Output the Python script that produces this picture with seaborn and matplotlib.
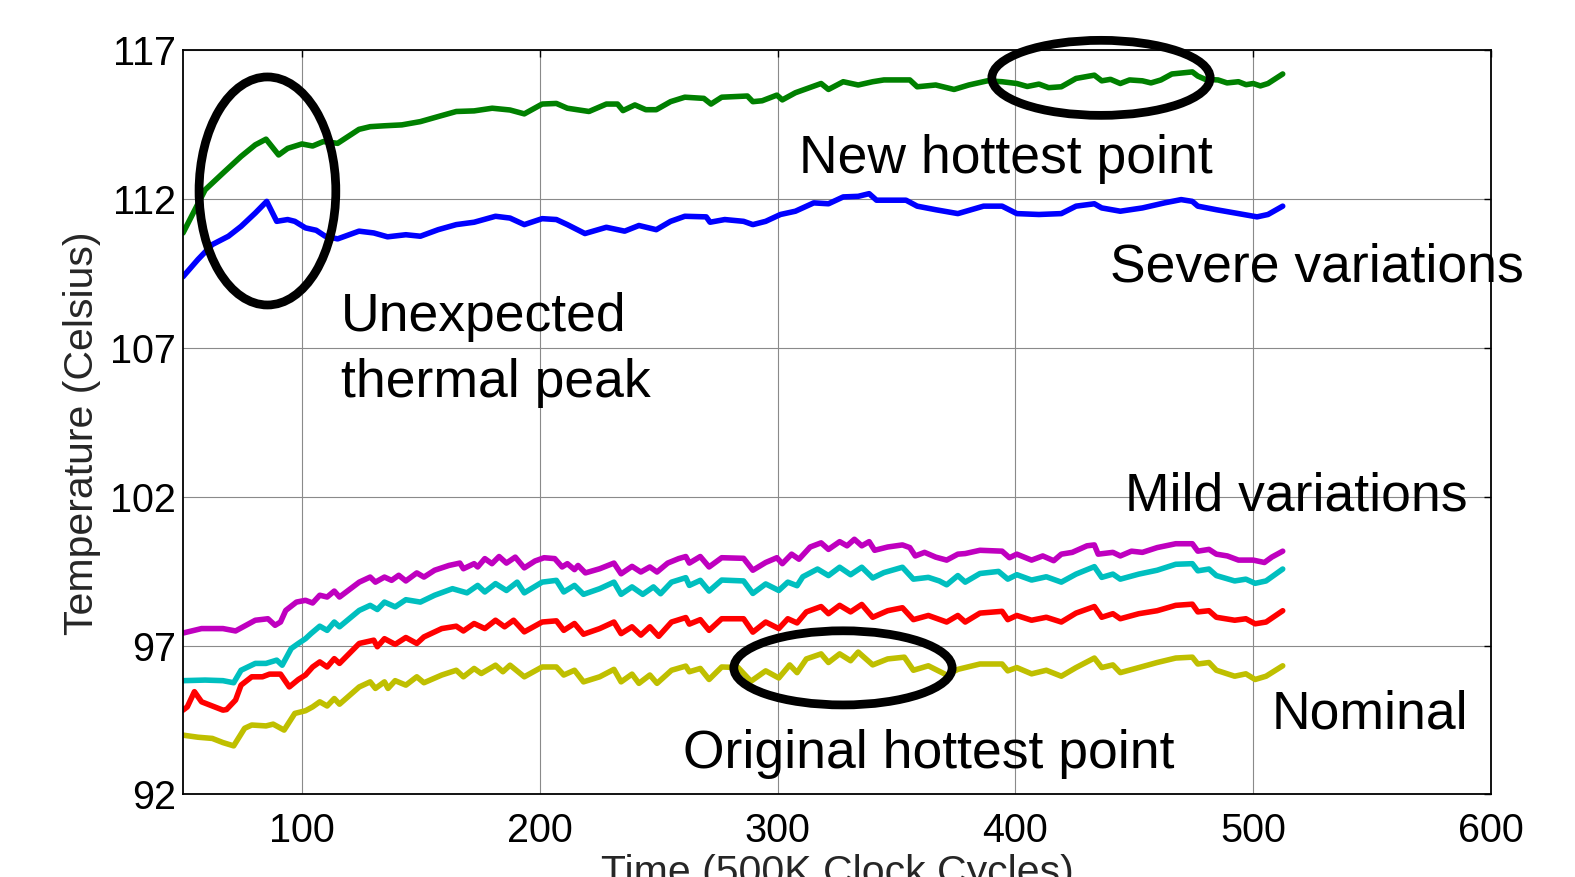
import matplotlib
matplotlib.use("Agg")
import matplotlib.pyplot as plt
import pandas as pd
import seaborn as sns
from matplotlib.patches import Ellipse

# ---------------- data ----------------
severe_hot_x = [50, 59.3, 66.8, 74.4, 80.4, 84.9, 90.2, 94, 100, 104.5, 109, 115, 124, 128.7, 134.7,
                142, 149.8, 157.3, 164.9, 172.4, 180, 187.5, 193.5, 201, 207, 211.6, 220.7, 228,
                232.7, 235, 240, 244.6, 249, 255, 261, 269, 272, 276.5, 287.3, 289.6, 293.5, 299.7,
                302, 307.5, 318.3, 321.4, 327.6, 333.9, 340, 344.7, 355.6, 358.7, 366.5, 374.2,
                380.4, 388.2, 394.4, 400.6, 405, 409.9, 414, 419.3, 425.5, 433.2, 436.3, 440, 444.1,
                448, 453.4, 457, 461.2, 465.8, 474.4, 476.7, 479.8, 485.2, 489, 493.8, 497, 500,
                503, 506.2, 512.4]
severe_hot_y = [110.86, 112.31, 112.87, 113.43, 113.82, 114.01, 113.48, 113.7, 113.85, 113.78, 113.93,
                113.87, 114.34, 114.43, 114.46, 114.49, 114.6, 114.77, 114.94, 114.96, 115.05,
                114.99, 114.86, 115.19, 115.21, 115.05, 114.94, 115.19, 115.19, 114.97, 115.16,
                115.0, 115.0, 115.27, 115.42, 115.38, 115.19, 115.42, 115.46, 115.27, 115.3,
                115.49, 115.33, 115.57, 115.88, 115.68, 115.94, 115.83, 115.94, 116.0, 116.0,
                115.77, 115.83, 115.68, 115.83, 115.97, 115.94, 115.88, 115.78, 115.86, 115.74,
                115.77, 116.05, 116.16, 115.97, 116.02, 115.88, 116.0, 115.97, 115.9, 116.0,
                116.2, 116.27, 116.13, 116.02, 116.0, 115.9, 115.94, 115.84, 115.88, 115.8,
                115.88, 116.2]

severe_x = [50, 56.3, 62.3, 69.1, 74.4, 80.4, 85.2, 89.4, 94, 97, 101.5, 106, 109.8, 115, 124,
            130.2, 136, 143.7, 149.8, 157.3, 164.9, 172.4, 181.4, 187.5, 193.5, 201, 207, 211.6,
            219, 228, 235.7, 241.7, 249, 255, 261, 270, 271.6, 277.8, 285.7, 289.6, 295, 301.2,
            307.5, 315.2, 321.4, 327.6, 333.9, 338.5, 341.6, 354, 358.7, 366.5, 375.8, 386.6,
            394.4, 400.6, 409.9, 419.3, 425.5, 433.2, 436.3, 444.1, 453.4, 462.7, 469.7, 474.4,
            476.7, 484.5, 493.8, 501.6, 506.2, 512.4]
severe_y = [109.39, 109.97, 110.47, 110.75, 111.08, 111.53, 111.92, 111.25, 111.31, 111.25, 111.03,
            110.95, 110.75, 110.66, 110.92, 110.86, 110.73, 110.8, 110.75, 110.97, 111.14, 111.22,
            111.42, 111.36, 111.14, 111.34, 111.31, 111.14, 110.84, 111.05, 110.92, 111.11,
            110.97, 111.25, 111.42, 111.4, 111.22, 111.31, 111.25, 111.14, 111.25, 111.48,
            111.59, 111.87, 111.84, 112.07, 112.09, 112.18, 111.96, 111.96, 111.76, 111.64,
            111.51, 111.76, 111.76, 111.51, 111.48, 111.51, 111.76, 111.84, 111.7, 111.59,
            111.7, 111.87, 111.98, 111.92, 111.76, 111.64, 111.51, 111.4, 111.48, 111.76]

mild_hot_x = [50, 57.8, 66.8, 72.1, 80.4, 85.7, 88.7, 91, 93.2, 97.7, 101.5, 104.5, 107.5, 110.6,
              113.6, 115.8, 124.1, 128.7, 130.9, 134.7, 137.7, 140.7, 143.7, 148.3, 151.3, 155.8,
              161.8, 166.4, 167.9, 172.4, 173.9, 176.9, 179.9, 182.9, 186, 189.7, 193.5, 198,
              201.8, 206.3, 209.4, 211.6, 214.6, 216.1, 219.2, 225.2, 231.2, 234.2, 238.8, 242.5,
              246.3, 249.3, 253.8, 258.4, 261.4, 262.9, 267.5, 271.2, 276.5, 285.7, 289.6, 295,
              299.7, 302, 305.9, 309, 313.7, 318.3, 321.4, 326.1, 329.2, 332.3, 335.4, 338.5,
              340.8, 346.3, 352.5, 355.6, 357.9, 361.8, 366.5, 371.1, 375.8, 378.9, 385.1, 394.4,
              397.5, 400.6, 406.8, 411.5, 416.1, 419.3, 423.9, 430.1, 433.2, 434.8, 441, 444.1,
              448.8, 453.4, 459.6, 467.4, 474.4, 476.7, 481.4, 484.5, 489.1, 493.8, 500, 504.7,
              507.8, 512.4]
mild_hot_y = [97.42, 97.57, 97.57, 97.49, 97.85, 97.9, 97.68, 97.79, 98.18, 98.46, 98.52, 98.43,
              98.69, 98.63, 98.83, 98.63, 99.13, 99.3, 99.13, 99.3, 99.19, 99.36, 99.17, 99.44,
              99.3, 99.53, 99.69, 99.77, 99.58, 99.75, 99.64, 99.92, 99.75, 99.99, 99.77, 99.97,
              99.61, 99.84, 99.95, 99.92, 99.64, 99.75, 99.55, 99.69, 99.44, 99.58, 99.77, 99.41,
              99.66, 99.47, 99.64, 99.47, 99.77, 99.92, 99.99, 99.77, 99.99, 99.64, 99.95, 99.93,
              99.53, 99.79, 99.95, 99.75, 100.07, 99.9, 100.31, 100.45, 100.23, 100.49, 100.35,
              100.57, 100.35, 100.49, 100.2, 100.31, 100.38, 100.29, 100.01, 100.13, 99.97,
              99.87, 100.07, 100.09, 100.2, 100.17, 99.95, 100.07, 99.87, 100.01, 99.85, 100.07,
              100.13, 100.35, 100.38, 100.07, 100.13, 100.01, 100.17, 100.13, 100.29, 100.42,
              100.42, 100.17, 100.23, 100.07, 100.01, 99.87, 99.87, 99.79, 99.97, 100.17]

mild_x = [50, 59.3, 66.8, 71.3, 74.4, 80.4, 84.9, 89.4, 91.7, 95.5, 98.5, 101.5, 103.8, 107.5,
          110.6, 113.6, 115.8, 124.1, 128.7, 131.7, 134.7, 139.2, 143.7, 149.8, 155.8, 163.3,
          169.4, 173.9, 176.9, 181.4, 186, 190.5, 193.5, 201, 207, 210.1, 214.6, 218.4, 225.2,
          231.2, 234.2, 238.8, 243.3, 247.8, 250.8, 255.4, 261.4, 262.9, 267.5, 271.2, 276.5,
          285.7, 289.6, 295, 300.5, 304.3, 308.2, 310.6, 316.8, 321.4, 326.1, 330.7, 335.4, 340,
          344.7, 352.5, 357.1, 363.4, 368, 371.1, 375.8, 378.9, 385.1, 392.9, 396.8, 400.6,
          406.8, 413, 419.3, 425.5, 433.2, 436.3, 441, 444.1, 451.9, 459.6, 467.4, 474.4, 476.7,
          481.4, 484.5, 492.2, 496.9, 500.8, 505.4, 512.4]
mild_y = [95.82, 95.84, 95.82, 95.75, 96.17, 96.4, 96.4, 96.51, 96.34, 96.9, 97.07, 97.23, 97.4,
          97.65, 97.51, 97.79, 97.63, 98.18, 98.35, 98.21, 98.46, 98.3, 98.54, 98.46, 98.69,
          98.91, 98.77, 99.02, 98.8, 99.08, 98.85, 99.13, 98.77, 99.13, 99.19, 98.8, 99.02,
          98.72, 98.91, 99.13, 98.72, 98.97, 98.72, 98.97, 98.74, 99.13, 99.28, 99.02, 99.19,
          98.83, 99.2, 99.17, 98.75, 99.07, 98.85, 99.13, 99.01, 99.31, 99.57, 99.35, 99.63,
          99.38, 99.63, 99.27, 99.45, 99.63, 99.23, 99.29, 99.17, 99.04, 99.35, 99.13, 99.42,
          99.49, 99.23, 99.38, 99.2, 99.31, 99.13, 99.4, 99.65, 99.29, 99.4, 99.23, 99.4, 99.53,
          99.73, 99.75, 99.51, 99.57, 99.35, 99.17, 99.23, 99.09, 99.17, 99.57]

mild_low_x = [50, 51.8, 54.8, 57.8, 62.3, 66.8, 68.3, 72.1, 74.4, 78.9, 83.4, 86.4, 91, 94.7,
              98.5, 101.5, 104.5, 107.5, 110.6, 113.6, 115.8, 124.1, 130.2, 131.7, 134.7, 139.2,
              143.7, 148.3, 151.3, 158.8, 164.9, 167.9, 172.4, 176.9, 181.4, 185.2, 189, 193.5,
              201, 207, 210.1, 214.6, 218.4, 225.2, 231.2, 234.2, 238.8, 242.5, 246.3, 250, 255.4,
              261.4, 262.9, 267.5, 271.2, 276.5, 285.7, 289.6, 295, 300.5, 304.3, 308.2, 312.1,
              318.3, 321.4, 326.1, 330.7, 335.4, 340, 346.3, 352.5, 357.1, 363.4, 371.1, 375.8,
              378.9, 385.1, 394.4, 396.8, 400.6, 406.8, 413, 419.3, 425.5, 433.2, 436.3, 441,
              444.1, 451.9, 459.6, 467.4, 474.4, 476.7, 481.4, 484.5, 492.2, 496.9, 500.8, 505.4,
              512.4]
mild_low_y = [94.83, 94.94, 95.45, 95.11, 94.97, 94.83, 94.85, 95.17, 95.67, 95.95, 95.95, 96.04,
              96.04, 95.61, 95.86, 96.01, 96.28, 96.45, 96.28, 96.56, 96.4, 97.07, 97.18, 96.96,
              97.23, 97.04, 97.27, 97.07, 97.29, 97.57, 97.65, 97.49, 97.74, 97.57, 97.85, 97.63,
              97.85, 97.46, 97.79, 97.83, 97.51, 97.74, 97.38, 97.57, 97.79, 97.4, 97.63, 97.35,
              97.63, 97.31, 97.79, 97.94, 97.72, 97.87, 97.51, 97.9, 97.9, 97.45, 97.79, 97.57,
              97.9, 97.76, 98.13, 98.31, 98.07, 98.35, 98.13, 98.38, 97.95, 98.17, 98.27, 97.87,
              98.01, 97.79, 98.01, 97.79, 98.09, 98.15, 97.87, 98.01, 97.85, 97.95, 97.79, 98.09,
              98.31, 97.95, 98.07, 97.9, 98.07, 98.17, 98.35, 98.39, 98.13, 98.17, 97.95, 97.85,
              97.9, 97.73, 97.79, 98.17]

nominal_x = [50, 56.3, 62.3, 66.8, 71.3, 75.9, 78.9, 84.9, 87.9, 92.5, 97, 101.5, 104.5, 107.5,
             110.6, 113.6, 115.8, 124.1, 128.7, 130.9, 134.7, 136.2, 139.2, 143.7, 148.3, 151.3,
             158.8, 164.9, 167.9, 172.4, 175.4, 181.4, 184.5, 187.5, 193.5, 201, 207, 210.1,
             214.6, 218.4, 225.2, 231.2, 234.2, 238.8, 241.7, 246.3, 249.3, 255.4, 261.4, 262.9,
             267.5, 271.2, 276.5, 283.4, 288.8, 295, 300.5, 305.1, 308.2, 312.1, 318.3, 321.4,
             326.1, 330.7, 333.9, 340, 346.3, 353.3, 357.1, 363.4, 371.1, 375.8, 385.1, 394.4,
             396.8, 400.6, 406.8, 413, 419.3, 425.5, 433.2, 436.3, 441, 444.1, 451.9, 459.6,
             467.4, 474.4, 476.7, 481.4, 484.5, 492.2, 496.9, 500.8, 505.4, 512.4]
nominal_y = [93.99, 93.92, 93.88, 93.74, 93.63, 94.22, 94.33, 94.3, 94.36, 94.16, 94.72, 94.81,
             94.94, 95.11, 94.97, 95.22, 95.03, 95.61, 95.78, 95.56, 95.78, 95.56, 95.82, 95.67,
             95.95, 95.75, 96.01, 96.17, 95.95, 96.23, 96.06, 96.34, 96.12, 96.34, 95.95, 96.28,
             96.28, 96.01, 96.17, 95.78, 95.95, 96.2, 95.78, 96.04, 95.73, 96.01, 95.73, 96.17,
             96.31, 96.12, 96.23, 95.86, 96.28, 96.26, 95.8, 96.15, 95.91, 96.35, 96.09, 96.55,
             96.72, 96.43, 96.72, 96.49, 96.78, 96.35, 96.55, 96.61, 96.17, 96.32, 96.01, 96.2,
             96.38, 96.38, 96.15, 96.26, 96.05, 96.17, 95.97, 96.26, 96.58, 96.26, 96.35, 96.09,
             96.26, 96.43, 96.58, 96.61, 96.38, 96.43, 96.17, 95.97, 96.05, 95.86, 95.97, 96.32]

series_names = ["severe_hot", "severe", "mild_hot", "mild", "mild_low", "nominal"]
series_colors = ["#008000", "#0000ff", "#bf00bf", "#00bfbf", "#ff0000", "#bfbf00"]

x_ticks = [100, 200, 300, 400, 500, 600]
y_ticks = [92, 97, 102, 107, 112, 117]
x_label = "Time (500K Clock Cycles)"
y_label = "Temperature (Celsius)"

annotations = [
    ("New hottest point", 309.2, 112.88),
    ("Severe variations", 439.7, 109.24),
    ("Unexpected", 116.5, 107.55),
    ("thermal peak", 116.5, 105.36),
    ("Mild variations", 446.0, 101.54),
    ("Nominal", 507.8, 94.23),
    ("Original hottest point", 260.4, 92.87),
]
# ellipses: (center x, center y, width, height) in data units
ellipses = [
    (85.5, 112.27, 57.5, 7.66),
    (436.0, 116.07, 91.8, 2.52),
    (327.5, 96.25, 91.8, 2.49),
]

# ---------------- build table ----------------
all_x = [severe_hot_x, severe_x, mild_hot_x, mild_x, mild_low_x, nominal_x]
all_y = [severe_hot_y, severe_y, mild_hot_y, mild_y, mild_low_y, nominal_y]
frames = []
for name, xs, ys in zip(series_names, all_x, all_y):
    frames.append(pd.DataFrame({"time": xs, "temp": ys, "series": name}))
df = pd.concat(frames, ignore_index=True)

# ---------------- style ----------------
sns.set_style("white")
plt.rcParams["font.family"] = ["Liberation Sans", "DejaVu Sans"]

fig = plt.figure(figsize=(15.75, 8.77), dpi=100)
ax = fig.add_axes([0.1162, 0.0942, 0.8305, 0.8486])

sns.lineplot(data=df, x="time", y="temp", hue="series", hue_order=series_names,
             palette=dict(zip(series_names, series_colors)), estimator=None, sort=False,
             linewidth=4.0, legend=False, ax=ax, zorder=3)

ax.set_xlim(50, 600)
ax.set_ylim(92, 117)
ax.set_xticks(x_ticks)
ax.set_yticks(y_ticks)
ax.grid(True, color="#8a8a8a", linewidth=0.8, linestyle="-")
ax.set_axisbelow(True)
for s in ax.spines.values():
    s.set_visible(True)
    s.set_color("black")
    s.set_linewidth(1.3)
    s.set_zorder(4)

ax.tick_params(axis="both", direction="in", length=5, width=1, colors="black",
               top=True, right=True, labelsize=28.5)
ax.tick_params(axis="x", pad=13)
ax.tick_params(axis="y", pad=5)

ax.set_xlabel(x_label, fontsize=29.5)
ax.set_ylabel(y_label, fontsize=29.5)
ax.xaxis.set_label_coords(0.5, -0.08)
ax.yaxis.set_label_coords(-0.063, 0.485)

for txt, tx, ty in annotations:
    ax.text(tx, ty, txt, fontsize=38.5, ha="left", va="baseline", color="black", zorder=1,
            clip_on=False)

for cx, cy, w, h in ellipses:
    ax.add_patch(Ellipse((cx, cy), w, h, fill=False, edgecolor="black", linewidth=6.3,
                         clip_on=False, zorder=5))

fig.savefig("out.png", dpi=100)
